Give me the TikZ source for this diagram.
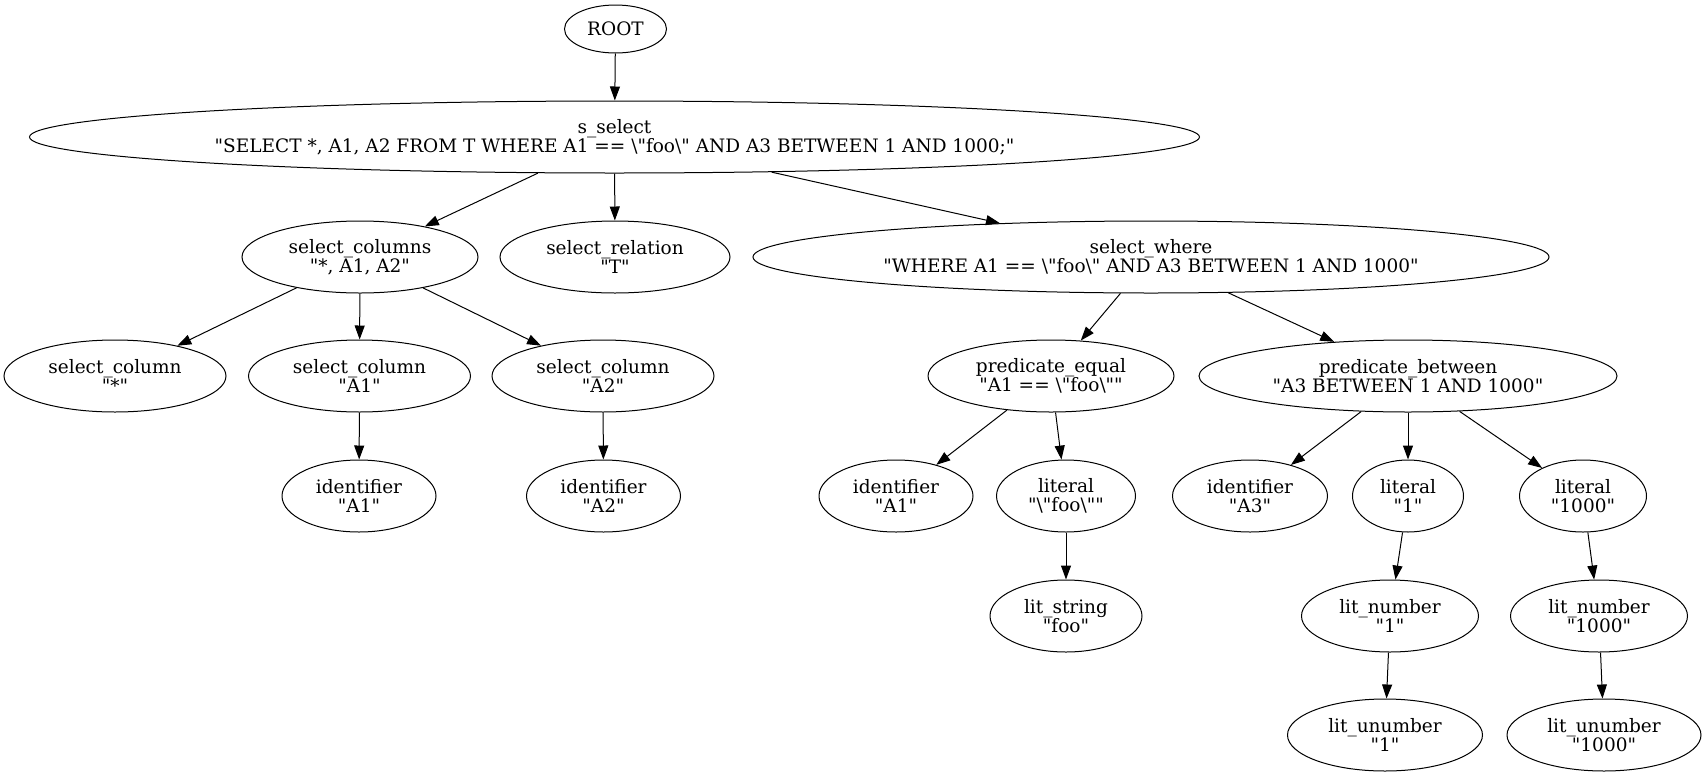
\documentclass[tikz,border=0pt]{standalone}
\usepackage{fontspec}
\setmainfont{DejaVu Serif}[Ligatures=TeXOff]
\usepackage{tikz}
\usetikzlibrary{shapes,arrows.meta}
\newcommand{\bsq}{\textbackslash"}

\begin{document}
\begin{tikzpicture}[x=1pt, y=-1pt,
    tnode/.style={ellipse, draw, line width=1pt, inner sep=0pt, align=center,
        minimum height=72pt, font=\fontsize{18.5}{18.5}\selectfont},
    arr/.style={-{Triangle[length=14pt,width=10pt]}, line width=1pt}]
    \useasboundingbox (0,0) rectangle (1706,777);

    % Top
    \node [tnode, minimum width=102pt, minimum height=48pt] (root) at (615.5, 29) {ROOT};
    \node [tnode, minimum width=1170pt] (sselect) at (614.5, 137)
        {s\_select\\"SELECT *, A1, A2 FROM T WHERE A1 == \bsq foo\bsq{} AND A3 BETWEEN 1 AND 1000;"};

    % Clauses
    \node [tnode, minimum width=236pt] (selcols) at (360, 257) {select\_columns\\"*, A1, A2"};
    \node [tnode, minimum width=230pt] (selrel) at (615, 257) {select\_relation\\"T"};
    \node [tnode, minimum width=796pt] (selwhere) at (1151, 257)
        {select\_where\\"WHERE A1 == \bsq foo\bsq{} AND A3 BETWEEN 1 AND 1000"};

    % Columns
    \node [tnode, minimum width=222pt] (colstar) at (115, 376) {select\_column\\"*"};
    \node [tnode, minimum width=222pt] (colaone) at (359.5, 376) {select\_column\\"A1"};
    \node [tnode, minimum width=222pt] (colatwo) at (603, 376) {select\_column\\"A2"};
    \node [tnode, minimum width=154pt] (idaone) at (359, 496) {identifier\\"A1"};
    \node [tnode, minimum width=154pt] (idatwo) at (603.5, 496) {identifier\\"A2"};

    % Predicates
    \node [tnode, minimum width=246pt] (predeq) at (1051, 376) {predicate\_equal\\"A1 == \bsq foo\bsq"};
    \node [tnode, minimum width=418pt] (predbtw) at (1408, 376) {predicate\_between\\"A3 BETWEEN 1 AND 1000"};
    \node [tnode, minimum width=154pt] (idaoneb) at (896, 496) {identifier\\"A1"};
    \node [tnode, minimum width=139pt] (litfoo) at (1066, 496) {literal\\"\bsq foo\bsq"};
    \node [tnode, minimum width=155pt] (idathree) at (1250, 496) {identifier\\"A3"};
    \node [tnode, minimum width=111pt] (litone) at (1408, 496) {literal\\"1"};
    \node [tnode, minimum width=127pt] (litthou) at (1583, 496) {literal\\"1000"};

    % Literal values
    \node [tnode, minimum width=152pt] (litstr) at (1066, 616) {lit\_string\\"foo"};
    \node [tnode, minimum width=177pt] (numone) at (1390, 616) {lit\_number\\"1"};
    \node [tnode, minimum width=177pt] (numthou) at (1599, 616) {lit\_number\\"1000"};
    \node [tnode, minimum width=195pt] (unumone) at (1385, 735) {lit\_unumber\\"1"};
    \node [tnode, minimum width=194pt] (unumthou) at (1604, 735) {lit\_unumber\\"1000"};

    % Edges
    \foreach \a/\b in {root/sselect, sselect/selcols, sselect/selrel, sselect/selwhere,
        selcols/colstar, selcols/colaone, selcols/colatwo, colaone/idaone, colatwo/idatwo,
        selwhere/predeq, selwhere/predbtw, predeq/idaoneb, predeq/litfoo, litfoo/litstr,
        predbtw/idathree, predbtw/litone, predbtw/litthou, litone/numone, litthou/numthou,
        numone/unumone, numthou/unumthou}
        \draw [arr] (\a) -- (\b);
\end{tikzpicture}
\end{document}
